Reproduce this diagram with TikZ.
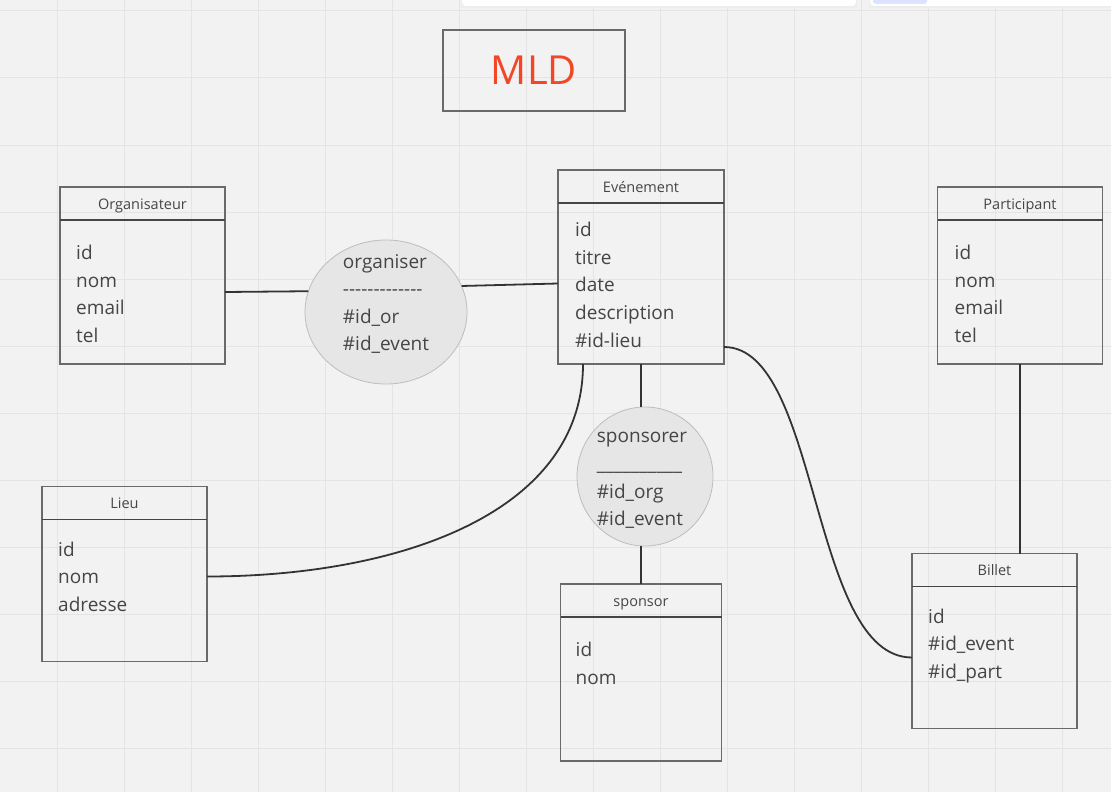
\documentclass[tikz,border=0pt]{standalone}
\usepackage{fontspec}
\setmainfont{Open Sans}
\usetikzlibrary{positioning}
\usetikzlibrary{shapes.geometric}

\definecolor{fond}{HTML}{F2F2F2}
\definecolor{grille}{HTML}{E4E4E4}
\definecolor{trait}{HTML}{333333}
\definecolor{cadre}{HTML}{6A6A6A}
\definecolor{texte}{HTML}{454545}
\definecolor{rougemld}{HTML}{F24726}
\definecolor{bulle}{HTML}{E6E6E6}
\definecolor{bordbulle}{HTML}{BDBDBD}
\definecolor{bleuui}{HTML}{DCE2FF}

\newcommand{\tirets}{-{}-{}-{}-{}-{}-{}-{}-{}-{}-{}-{}-{}-}

\tikzset{
  titre/.style={draw=cadre, line width=1.2pt, minimum height=33pt, inner sep=0pt, outer sep=0pt,
    text height=11pt, text depth=0pt, text=texte, font=\fontsize{14.5}{17}\selectfont},
  corps/.style={draw=cadre, line width=1.2pt, inner sep=0pt, outer sep=0pt},
  champs/.style={align=left, inner sep=0pt, text=texte, font=\fontsize{19}{27.6}\selectfont},
  assoc/.style={ellipse, fill=bulle, draw=bordbulle, line width=0.8pt, inner sep=0pt, outer sep=0pt},
  lien/.style={draw=trait, line width=1.8pt},
  sep/.style={draw=texte, line width=1.8pt}
}

\begin{document}
\begin{tikzpicture}[x=1pt, y=-1pt]
      % fond et grille
      \useasboundingbox (0,0) rectangle (1111,792);
      \clip (0,0) rectangle (1111,792);
      \fill[fond] (0,0) rectangle (1111,792);
      \foreach \x in {57,124,...,1111} \draw[grille, line width=1pt] (\x,0) -- (\x,792);
      \foreach \y in {11,78,...,792} \draw[grille, line width=1pt] (0,\y) -- (1111,\y);
      \fill[black!7] (461,-10) rectangle (857,8);
      \fill[white, rounded corners=4pt] (462,-10) rectangle (856,6);
      \fill[black!7] (869,-10) rectangle (1120,8);
      \fill[white, rounded corners=4pt] (870,-10) rectangle (1120,6);
      \fill[bleuui, rounded corners=3pt] (873,-10) rectangle (927,4);

      \node[draw=cadre, line width=1.4pt, minimum width=182pt, minimum height=81pt, inner sep=0pt,
        text=rougemld, font=\fontsize{40}{48}\selectfont] at (534,70.5) (mld){MLD};

      % entites
      \node[titre, minimum width=165pt] at (142.5,203.5) (orgT){Organisateur};
      \node[corps, minimum width=165pt, minimum height=144pt, below=0pt of orgT] (org){};
      \node[titre, minimum width=166pt] at (641,186.5) (evtT){Evénement};
      \node[corps, minimum width=166pt, minimum height=161pt, below=0pt of evtT] (evt){};
      \node[titre, minimum width=165pt] at (1020,203.5) (partT){Participant};
      \node[corps, minimum width=165pt, minimum height=144pt, below=0pt of partT] (part){};
      \node[titre, minimum width=165pt] at (124.5,503) (lieuT){Lieu};
      \node[corps, minimum width=165pt, minimum height=142pt, below=0pt of lieuT] (lieu){};
      \node[titre, minimum width=161pt] at (641,600.5) (sponsT){sponsor};
      \node[corps, minimum width=161pt, minimum height=144pt, below=0pt of sponsT] (spons){};
      \node[titre, minimum width=165pt] at (994.5,570) (bilT){Billet};
      \node[corps, minimum width=165pt, minimum height=142pt, below=0pt of bilT] (bil){};
      \foreach \e in {org,evt,part,lieu,spons,bil}
        \draw[sep] (\e T.south west) -- (\e T.south east);

      \node[champs, anchor=north west] at ([xshift=16pt, yshift=-25pt]org.north west) {id\\nom\\email\\tel};
      \node[champs, anchor=north west] at ([xshift=17pt, yshift=-19pt]evt.north west) {id\\titre\\date\\description\\\#id-lieu};
      \node[champs, anchor=north west] at ([xshift=17pt, yshift=-25pt]part.north west) {id\\nom\\email\\tel};
      \node[champs, anchor=north west] at ([xshift=16pt, yshift=-22pt]lieu.north west) {id\\nom\\adresse};
      \node[champs, anchor=north west] at ([xshift=15pt, yshift=-25pt]spons.north west) {id\\nom};
      \node[champs, anchor=north west] at ([xshift=16pt, yshift=-22pt]bil.north west) {id\\\#id\_event\\\#id\_part};

      % associations
      \node[assoc, minimum width=162pt, minimum height=144pt] at (386,312) (organiser){};
      \node[champs] at ([yshift=8pt]organiser.center) {organiser\\\tirets\\\#id\_or\\\#id\_event};
      \node[assoc, minimum width=136pt, minimum height=139pt] at (645,476.5) (sponsorer){};
      \node[champs] at ([xshift=-3pt, yshift=-4pt]sponsorer.center) {sponsorer\\\_\_\_\_\_\_\_\_\_\_\\\#id\_org\\\#id\_event};

      % liens
      \draw[lien] (org.east) -- (organiser.165);
      \draw[lien] (organiser.19) -- (evt.west);
      \draw[lien] ([xshift=25pt]evt.south west) .. controls +(0,150) and +(190,0) .. ([yshift=14pt]lieu.east);
      \draw[lien] (evt.south) -- (evt.south |- sponsorer.north);
      \draw[lien] (sponsT.north |- sponsorer.south) -- (sponsT.north);
      \draw[lien] ([yshift=17pt]evt.south east) .. controls +(96,0) and +(-102,0) .. (bil.west);
      \draw[lien] (part.south) -- (part.south |- bilT.north);
    \end{tikzpicture}
\end{document}
